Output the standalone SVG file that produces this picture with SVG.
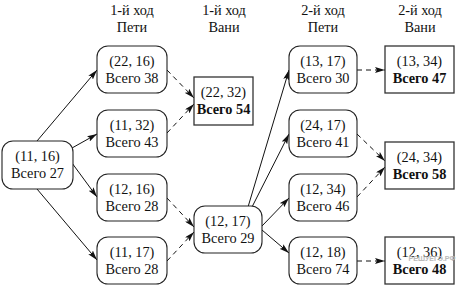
<svg xmlns="http://www.w3.org/2000/svg" width="458" height="286" viewBox="0 0 458 286" font-family="'Liberation Serif', 'Times New Roman', serif">
<style>
text{font-family:"Liberation Serif","Times New Roman",serif;font-size:14.3px;fill:#111;text-anchor:middle}
.b{font-weight:bold}
.n{fill:#fff;stroke:#222;stroke-width:1.1}
.s{fill:#fff;stroke:#333;stroke-width:1.3}
.c{stroke:#111;stroke-width:1;fill:none}
.d{stroke-dasharray:5 4}
text.wm{font-family:"Liberation Sans",Arial,sans-serif;font-size:7px;fill:#bbb;font-weight:bold}
</style>
<defs>
<marker id="a" viewBox="0 0 10 6" refX="10" refY="3" markerWidth="10" markerHeight="6" markerUnits="userSpaceOnUse" orient="auto">
<path d="M0,0 L10,3 L0,6 L2,3 z" fill="#111"/>
</marker>
</defs>
<g id="headers">
<text x="132" y="15">1-й ход</text><text x="132" y="32">Пети</text>
<text x="224" y="15">1-й ход</text><text x="224" y="32">Вани</text>
<text x="323" y="15">2-й ход</text><text x="323" y="32">Пети</text>
<text x="420" y="15">2-й ход</text><text x="420" y="32">Вани</text>
</g>
<g id="connectors">
<line class="c" x1="37" y1="141" x2="97" y2="70" marker-end="url(#a)"/>
<line class="c" x1="72" y1="148" x2="97" y2="134" marker-end="url(#a)"/>
<line class="c" x1="72" y1="163" x2="97" y2="197" marker-end="url(#a)"/>
<line class="c" x1="37" y1="189" x2="97" y2="260" marker-end="url(#a)"/>
<line class="c d" x1="167" y1="70" x2="194" y2="98" marker-end="url(#a)"/>
<line class="c d" x1="167" y1="133" x2="194" y2="104" marker-end="url(#a)"/>
<line class="c d" x1="167" y1="198" x2="194" y2="227" marker-end="url(#a)"/>
<line class="c d" x1="167" y1="261" x2="194" y2="232" marker-end="url(#a)"/>
<line class="c" x1="248" y1="207" x2="289" y2="70" marker-end="url(#a)"/>
<line class="c" x1="252" y1="207" x2="289" y2="134" marker-end="url(#a)"/>
<line class="c" x1="262" y1="226" x2="289" y2="198" marker-end="url(#a)"/>
<line class="c" x1="262" y1="230" x2="289" y2="253" marker-end="url(#a)"/>
<line class="c d" x1="357" y1="70" x2="385" y2="70" marker-end="url(#a)"/>
<line class="c d" x1="357" y1="134" x2="385" y2="161" marker-end="url(#a)"/>
<line class="c d" x1="357" y1="197" x2="385" y2="167" marker-end="url(#a)"/>
<line class="c d" x1="357" y1="261" x2="385" y2="261" marker-end="url(#a)"/>
</g>
<g id="n0"><rect class="n" x="2" y="141" width="71" height="48" rx="11"/><text x="37.5" y="161">(11, 16)</text><text x="37.5" y="178">Всего 27</text></g>
<g id="n1"><rect class="n" x="97" y="46" width="70" height="47" rx="11"/><text x="132" y="66">(22, 16)</text><text x="132" y="83">Всего 38</text></g>
<g id="n2"><rect class="n" x="97" y="110" width="70" height="47" rx="11"/><text x="132" y="130">(11, 32)</text><text x="132" y="147">Всего 43</text></g>
<g id="n3"><rect class="n" x="97" y="174" width="70" height="47" rx="11"/><text x="132" y="194">(12, 16)</text><text x="132" y="211">Всего 28</text></g>
<g id="n4"><rect class="n" x="97" y="237" width="70" height="47" rx="11"/><text x="132" y="257">(11, 17)</text><text x="132" y="274">Всего 28</text></g>
<g id="n5"><rect class="s" x="194" y="77" width="59" height="48"/><text x="223.5" y="97">(22, 32)</text><text class="b" x="223.5" y="114">Всего 54</text></g>
<g id="n6"><rect class="n" x="194" y="206" width="68" height="47" rx="11"/><text x="228" y="226">(12, 17)</text><text x="228" y="243">Всего 29</text></g>
<g id="n7"><rect class="n" x="289" y="46" width="68" height="47" rx="11"/><text x="323" y="66">(13, 17)</text><text x="323" y="83">Всего 30</text></g>
<g id="n8"><rect class="n" x="289" y="110" width="68" height="47" rx="11"/><text x="323" y="130">(24, 17)</text><text x="323" y="147">Всего 41</text></g>
<g id="n9"><rect class="n" x="289" y="174" width="68" height="47" rx="11"/><text x="323" y="194">(12, 34)</text><text x="323" y="211">Всего 46</text></g>
<g id="n10"><rect class="n" x="289" y="237" width="68" height="47" rx="11"/><text x="323" y="257">(12, 18)</text><text x="323" y="274">Всего 74</text></g>
<g id="n11"><rect class="s" x="385" y="46" width="69" height="47"/><text x="419.5" y="66">(13, 34)</text><text class="b" x="419.5" y="83">Всего 47</text></g>
<g id="n12"><rect class="s" x="385" y="142" width="69" height="47"/><text x="419.5" y="162">(24, 34)</text><text class="b" x="419.5" y="179">Всего 58</text></g>
<g id="n13"><rect class="s" x="385" y="237" width="69" height="47"/><text x="419.5" y="257">(12, 36)</text><text class="b" x="419.5" y="274">Всего 48</text></g>
<text class="wm" x="432" y="261">РЕШУЕГЭ.РФ</text>
</svg>
